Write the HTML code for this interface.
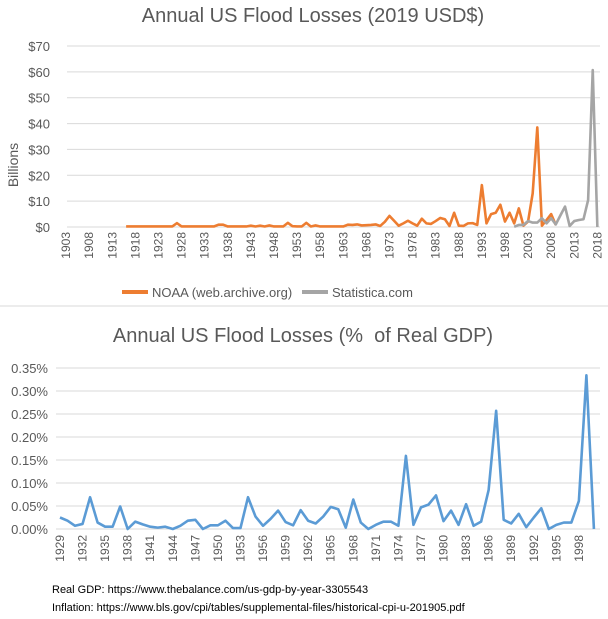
<!DOCTYPE html>
<html><head><meta charset="utf-8"><style>
body{margin:0;background:#fff;width:608px;height:619px;overflow:hidden;font-family:"Liberation Sans",sans-serif}
svg{position:absolute;left:0;top:0}
</style></head><body>
<svg id="c" width="608" height="619">
<rect width="608" height="619" fill="#fff"/>
<text x="313" y="22" text-anchor="middle" font-size="20" fill="#595959">Annual US Flood Losses (2019 USD$)</text>
<text transform="translate(18,165) rotate(-90)" text-anchor="middle" font-size="14" fill="#595959">Billions</text>
<g id="top"></g>
<g>
<line x1="122" y1="292" x2="148" y2="292" stroke="#ED7D31" stroke-width="4"/>
<text x="152" y="297" font-size="13" fill="#595959">NOAA (web.archive.org)</text>
<line x1="302" y1="292" x2="328" y2="292" stroke="#A5A5A5" stroke-width="4"/>
<text x="332" y="297" font-size="13" fill="#595959">Statistica.com</text>
</g>
<line x1="0" y1="306" x2="608" y2="306" stroke="#d9d9d9" stroke-width="1"/>
<text x="303" y="342" text-anchor="middle" font-size="20" fill="#595959">Annual US Flood Losses (%&#160; of Real GDP)</text>
<g id="bot"></g>
<text x="52" y="593" font-size="11" fill="#000">Real GDP: https://www.thebalance.com/us-gdp-by-year-3305543</text>
<text x="52" y="611" font-size="11" fill="#000">Inflation: https://www.bls.gov/cpi/tables/supplemental-files/historical-cpi-u-201905.pdf</text>
</svg>
<script>
const NS="http://www.w3.org/2000/svg";
const topYTicks=[0,10,20,30,40,50,60,70];
const topYears=[];for(let y=1903;y<=2018;y++)topYears.push(y);
const noaaStart=1916;
const noaaValues=[0.2,0.2,0.2,0.2,0.2,0.2,0.2,0.2,0.2,0.2,0.2,1.5,0.2,0.2,0.2,0.2,0.2,0.2,0.2,0.2,0.9,0.9,0.2,0.2,0.2,0.2,0.2,0.5,0.2,0.5,0.2,0.6,0.2,0.2,0.2,1.6,0.3,0.2,0.2,1.6,0.2,0.6,0.2,0.2,0.2,0.2,0.2,0.2,0.9,0.8,
1.0,0.6,0.7,0.8,1.0,0.4,2.0,4.3,2.4,0.5,1.4,2.4,1.4,0.5,3.2,1.4,1.2,2.3,3.5,3.0,0.4,5.5,0.5,0.4,1.4,1.5,0.8,16.2,1.4,5.0,5.5,8.6,2.1,5.5,1.4,7.2,0.5,2.1,13.0,38.5,0.5,2.7,5.0,0.8];
const statStart=2000;
const statValues=[0.1,0.8,0.8,2.3,1.7,1.7,3.4,1.4,3.4,1.0,4.5,7.9,0.4,2.3,2.7,3.0,10.4,60.7,0];
const gdpYears=[];for(let y=1929;y<=2000;y++)gdpYears.push(y);
const gdpValues=[0.025,0.018,0.007,0.011,0.069,0.014,0.005,0.005,0.049,0,0.016,0.010,0.005,0.003,0.005,0,0.007,0.018,0.020,0,0.008,0.008,0.018,0.002,0.002,0.069,0.027,0.007,0.022,0.040,0.015,0.008,0.041,0.018,0.012,0.027,0.048,0.043,0.003,0.064,0.014,0,0.009,0.016,0.016,0.007,0.159,0.009,0.047,0.053,0.073,0.017,0.040,0.009,0.054,0.007,0.016,0.085,0.257,0.020,0.012,0.033,0.004,0.025,0.045,0,0.009,0.014,0.014,0.061,0.334,0];
const botYTicks=[0,0.05,0.10,0.15,0.20,0.25,0.30,0.35];

function el(tag,attrs,parent){const e=document.createElementNS(NS,tag);for(const k in attrs)e.setAttribute(k,attrs[k]);parent.appendChild(e);return e;}
const tx=y=>537.3+(y-2005)*4.62;
const ty=v=>227-v*181/70;
const T=document.getElementById('top');
topYTicks.forEach(v=>{
  const g=el('line',{x1:67,x2:600,y1:ty(v),y2:ty(v),stroke:'#d9d9d9','stroke-width':1},T);
  
  
  const t=el('text',{x:50,y:ty(v)+5,'text-anchor':'end','font-size':13,fill:'#595959'},T);
  t.textContent='$'+v;
  
  
});
topYears.forEach((y,i)=>{if(i%5)return;
  const t=el('text',{transform:`translate(${tx(y)+4},232) rotate(-90)`,'text-anchor':'end','font-size':12,fill:'#595959'},T);
  t.textContent=y;
  
  
});
const p1=el('polyline',{points:noaaValues.map((v,i)=>tx(noaaStart+i)+','+ty(v)).join(' '),fill:'none',stroke:'#ED7D31','stroke-width':2.6,'stroke-linejoin':'round'},T);


const p2=el('polyline',{points:statValues.map((v,i)=>tx(statStart+i)+','+ty(v)).join(' '),fill:'none',stroke:'#A5A5A5','stroke-width':2.6,'stroke-linejoin':'round'},T);


const bx=i=>60+i*7.52;
const by=v=>529-v*460;
const B=document.getElementById('bot');
botYTicks.forEach(v=>{
  const g=el('line',{x1:56,x2:600,y1:by(v),y2:by(v),stroke:'#d9d9d9','stroke-width':1},B);
  
  
  const t=el('text',{x:48,y:by(v)+5,'text-anchor':'end','font-size':13,fill:'#595959'},B);
  t.textContent=v.toFixed(2)+'%';
  
  
});
gdpYears.forEach((y,i)=>{if(i%3)return;
  const t=el('text',{transform:`translate(${bx(i)+4},535) rotate(-90)`,'text-anchor':'end','font-size':12,fill:'#595959'},B);
  t.textContent=y;
  
  
});
const p3=el('polyline',{points:gdpValues.map((v,i)=>bx(i)+','+by(v)).join(' '),fill:'none',stroke:'#5B9BD5','stroke-width':2.6,'stroke-linejoin':'round'},B);


</script>
</body></html>
